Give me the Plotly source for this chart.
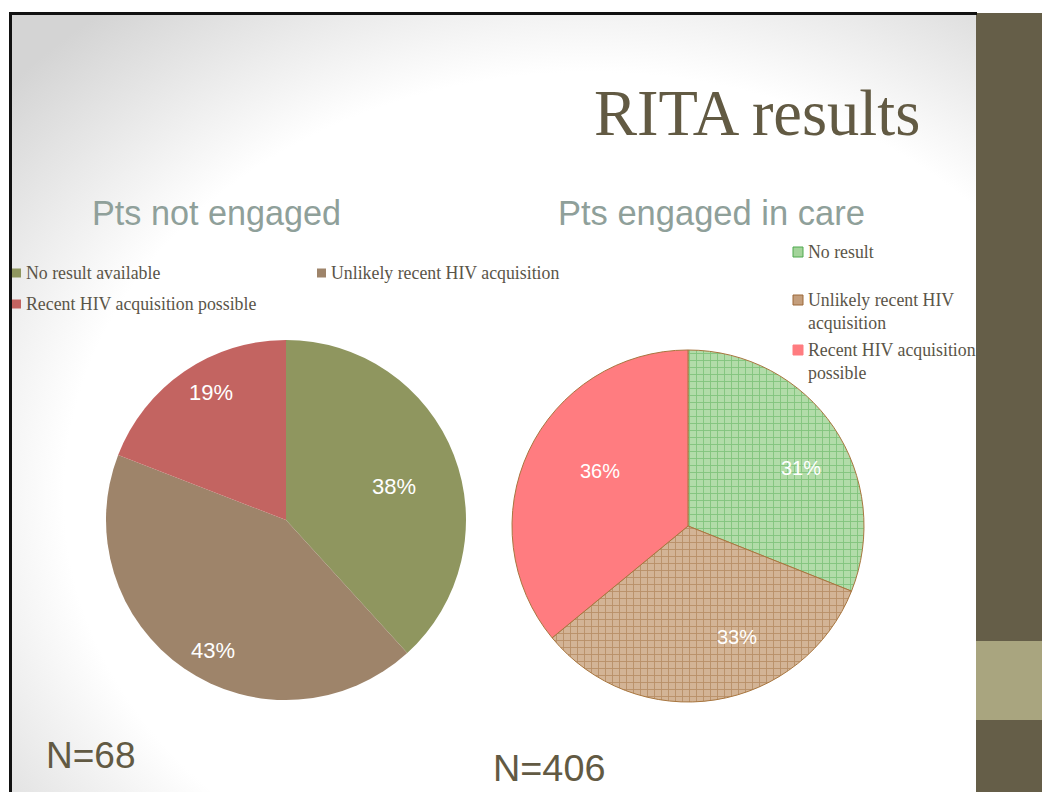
import base64
import math
import plotly.graph_objects as go

# ---------------- data ----------------
categories_left = ["No result available", "Unlikely recent HIV acquisition", "Recent HIV acquisition possible"]
counts_left = [26, 29, 13]          # N=68 -> 38%, 43%, 19%
categories_right = ["No result", "Unlikely recent HIV acquisition", "Recent HIV acquisition possible"]
counts_right = [126, 134, 146]      # N=406 -> 31%, 33%, 36%
legend_right_labels = ["No result", "Unlikely recent HIV<br>acquisition", "Recent HIV acquisition<br>possible"]
title_text = "RITA results"
subtitle_left = "Pts not engaged"
subtitle_right = "Pts engaged in care"
n_left = "N=68"
n_right = "N=406"

# ---------------- styles ----------------
W, H = 1042, 792
colors_left = ["#8F965F", "#9E846A", "#C36461"]
colors_right_bg = ["#B2DCA9", "#D3B496", "#FF7C80"]
colors_right_fg = ["#4FA94F", "#9C6838", "#FF7C80"]
colors_right_swatch = ["#A3D49A", "#C49E7C", "#FF7C80"]
text_dark = "#5A5548"
title_color = "#625A43"
sub_color = "#8FA09A"

# pie geometry (pixels): centre x, centre y, radius
geo_left = (286, 520, 180)
geo_right = (688, 526, 176)
# data-label placement style (radius fraction, angular nudge in degrees)
lab_r_left = [0.63, 0.83, 0.82]
lab_nudge_left = [4, -5, 4]
lab_r_right = [0.72, 0.69, 0.59]
lab_nudge_right = [7, -15, 7]


def px(x):
    return x / W


def py(y):
    return 1 - y / H


def dom(geo):
    cx, cy, r = geo
    return dict(x=[px(cx - r), px(cx + r)], y=[py(cy + r), py(cy - r)])


fig = go.Figure()

fig.add_trace(go.Pie(
    labels=categories_left, values=counts_left, sort=False, direction="clockwise", rotation=0,
    marker=dict(colors=colors_left, line=dict(width=0)),
    textinfo="none", domain=dom(geo_left),
    showlegend=False, hoverinfo="label+percent",
))

fig.add_trace(go.Pie(
    labels=categories_right, values=counts_right, sort=False, direction="clockwise", rotation=0,
    marker=dict(
        colors=colors_right_bg,
        line=dict(width=1, color="#A8763F"),
        pattern=dict(shape=["+", "+", ""], fgcolor=colors_right_fg, bgcolor=colors_right_bg,
                     size=7, solidity=0.24, fillmode="overlay"),
    ),
    textinfo="none", domain=dom(geo_right),
    showlegend=False, hoverinfo="label+percent",
))

# ---------------- background gradient (decorative) ----------------
svg = (
    '<svg xmlns="http://www.w3.org/2000/svg" width="966" height="779">'
    '<defs><radialGradient id="g" cx="0.6" cy="0.62" r="0.8">'
    '<stop offset="0" stop-color="#ffffff"/><stop offset="0.68" stop-color="#ffffff"/>'
    '<stop offset="1" stop-color="#d4d4d4"/></radialGradient></defs>'
    '<rect width="966" height="779" fill="url(#g)"/></svg>'
)
src = "data:image/svg+xml;base64," + base64.b64encode(svg.encode()).decode()

images = [dict(source=src, xref="paper", yref="paper", x=px(10), y=py(13),
               sizex=px(976) - px(10), sizey=py(13) - py(792), sizing="stretch",
               xanchor="left", yanchor="top", layer="below")]

shapes = [
    dict(type="rect", xref="paper", yref="paper", x0=px(976), x1=1, y0=0, y1=py(13),
         fillcolor="#655E48", line=dict(width=0), layer="below"),
    dict(type="rect", xref="paper", yref="paper", x0=px(976), x1=1, y0=py(720), y1=py(641),
         fillcolor="#A9A57F", line=dict(width=0), layer="below"),
    dict(type="line", xref="paper", yref="paper", x0=px(9), x1=px(977), y0=py(13.5), y1=py(13.5),
         line=dict(color="#111111", width=3)),
    dict(type="line", xref="paper", yref="paper", x0=px(10.5), x1=px(10.5), y0=0, y1=py(13),
         line=dict(color="#111111", width=3)),
]

annotations = [
    dict(text=title_text, x=px(922), y=py(114), xanchor="right", yanchor="middle",
         font=dict(family="Liberation Serif, Times New Roman", size=64.5, color=title_color)),
    dict(text=subtitle_left, x=px(90), y=py(213), xanchor="left", yanchor="middle",
         font=dict(family="Liberation Sans, Arial", size=34.2, color=sub_color)),
    dict(text=subtitle_right, x=px(556), y=py(213), xanchor="left", yanchor="middle",
         font=dict(family="Liberation Sans, Arial", size=34.5, color=sub_color)),
    dict(text=n_left, x=px(44), y=py(755), xanchor="left", yanchor="middle",
         font=dict(family="Liberation Sans, Arial", size=37, color=title_color)),
    dict(text=n_right, x=px(491), y=py(768), xanchor="left", yanchor="middle",
         font=dict(family="Liberation Sans, Arial", size=37.8, color=title_color)),
]


def pct_labels(values, geo, rfr, nudge, size):
    cx, cy, r = geo
    total = sum(values)
    cum = 0
    out = []
    for v, rf, nd in zip(values, rfr, nudge):
        frac = v / total
        mid = (cum + frac / 2) * 360 + nd
        cum += frac
        a = math.radians(mid)
        x = cx + rf * r * math.sin(a)
        y = cy - rf * r * math.cos(a)
        out.append(dict(text=f"{round(frac * 100)}%", x=px(x), y=py(y), xanchor="center", yanchor="middle",
                        font=dict(family="Liberation Sans, Arial", size=size, color="white")))
    return out


annotations += pct_labels(counts_left, geo_left, lab_r_left, lab_nudge_left, 22)
annotations += pct_labels(counts_right, geo_right, lab_r_right, lab_nudge_right, 20)

# left legend (2 columns)
leg_left_pos = [(12, 273), (317, 273), (12, 304)]
for lab, col, (lx, ly) in zip(categories_left, colors_left, leg_left_pos):
    shapes.append(dict(type="rect", xref="paper", yref="paper", x0=px(lx), x1=px(lx + 9),
                       y0=py(ly + 4.5), y1=py(ly - 4.5), fillcolor=col, line=dict(width=0)))
    annotations.append(dict(text=lab, x=px(lx + 12), y=py(ly), xanchor="left", yanchor="middle",
                            font=dict(family="Liberation Serif, Times New Roman", size=17.8, color=text_dark)))

# right legend (vertical, wrapped)
leg_right_pos = [(793, 252), (793, 300), (793, 350)]
for lab, col, fg, (lx, ly) in zip(legend_right_labels, colors_right_swatch, colors_right_fg, leg_right_pos):
    shapes.append(dict(type="rect", xref="paper", yref="paper", x0=px(lx), x1=px(lx + 10),
                       y0=py(ly + 5), y1=py(ly - 5), fillcolor=col, line=dict(width=1, color=fg)))
    annotations.append(dict(text=lab, x=px(lx + 13), y=py(ly - 12), xanchor="left", yanchor="top",
                            align="left",
                            font=dict(family="Liberation Serif, Times New Roman", size=17.8, color=text_dark)))

for a in annotations:
    a.update(xref="paper", yref="paper", showarrow=False)

fig.update_layout(
    width=W, height=H, margin=dict(l=0, r=0, t=0, b=0),
    paper_bgcolor="white", plot_bgcolor="white",
    shapes=shapes, annotations=annotations, images=images,
)

fig.write_html("out.html", config={"displayModeBar": False})
